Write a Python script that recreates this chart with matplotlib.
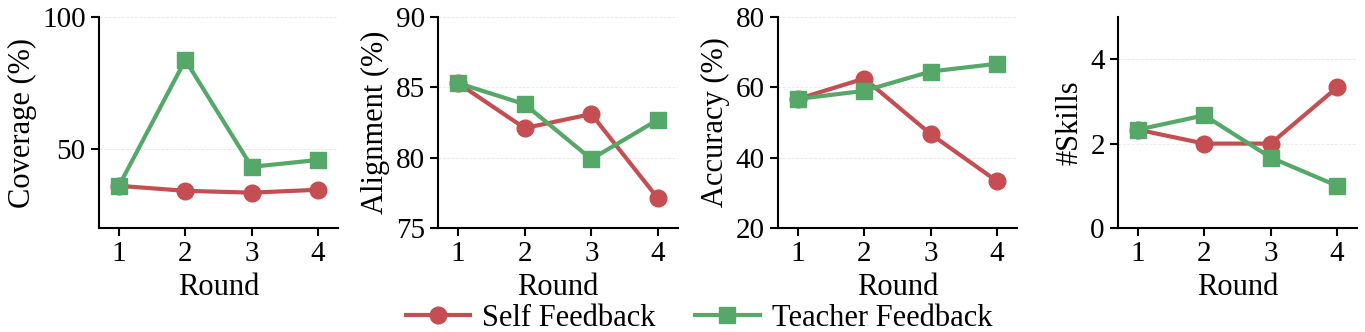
import matplotlib
matplotlib.use("Agg")
import matplotlib.pyplot as plt

rounds = [1, 2, 3, 4]

coverage_self = [36.0, 34.1, 33.4, 34.5]
coverage_teacher = [36.0, 83.7, 43.2, 45.8]

alignment_self = [85.3, 82.1, 83.1, 77.1]
alignment_teacher = [85.3, 83.8, 79.9, 82.7]

accuracy_self = [56.7, 62.5, 46.7, 33.3]
accuracy_teacher = [56.7, 59.0, 64.5, 66.7]

skills_self = [2.33, 2.0, 2.0, 3.33]
skills_teacher = [2.33, 2.67, 1.67, 1.0]

red = "#C44E52"
green = "#55A868"

plt.rcParams["font.family"] = ["Liberation Serif", "DejaVu Serif"]

fig = plt.figure(figsize=(13.65, 3.32), dpi=100)

W, H = 1365.0, 332.0
top, bottom = 17, 228
lefts = [99, 438, 778, 1118]
rights = [338, 678, 1017, 1357]

panels = [
    ("Coverage (%)", coverage_self, coverage_teacher, (20, 100), [50, 100]),
    ("Alignment (%)", alignment_self, alignment_teacher, (75, 90), [75, 80, 85, 90]),
    ("Accuracy (%)", accuracy_self, accuracy_teacher, (20, 80), [20, 40, 60, 80]),
    ("#Skills", skills_self, skills_teacher, (0, 5), [0, 2, 4]),
]

handles = None
for i, (ylab, s, t, ylim, yticks) in enumerate(panels):
    ax = fig.add_axes([lefts[i] / W, 1 - bottom / H,
                       (rights[i] - lefts[i]) / W, (bottom - top) / H])
    h1, = ax.plot(rounds, s, color=red, marker="o", lw=3, ms=12,
                  label="Self Feedback", zorder=3)
    h2, = ax.plot(rounds, t, color=green, marker="s", lw=3, ms=12,
                  label="Teacher Feedback", zorder=4)
    handles = [h1, h2]
    ax.set_ylim(*ylim)
    ax.set_yticks(yticks)
    ax.set_xlim(0.7, 4.3)
    ax.set_xticks(rounds)
    ax.set_xlabel("Round", fontsize=22, labelpad=4)
    ax.set_ylabel(ylab, fontsize=22, labelpad=4)
    ax.grid(axis="y", color="#dddddd", linestyle="--", lw=0.6, alpha=0.7)
    ax.set_axisbelow(True)
    for sp in ["top", "right"]:
        ax.spines[sp].set_visible(False)
    for sp in ["left", "bottom"]:
        ax.spines[sp].set_linewidth(1.5)
    ax.tick_params(labelsize=21, length=6, width=1.5, direction="out")

fig.legend(handles, ["Self Feedback", "Teacher Feedback"], loc="center",
           ncol=2, frameon=False, fontsize=22,
           bbox_to_anchor=(699 / W, 14 / H),
           handlelength=2.1, handletextpad=0.4, columnspacing=1.3,
           borderpad=0, borderaxespad=0)

fig.savefig("out.png", dpi=100)
